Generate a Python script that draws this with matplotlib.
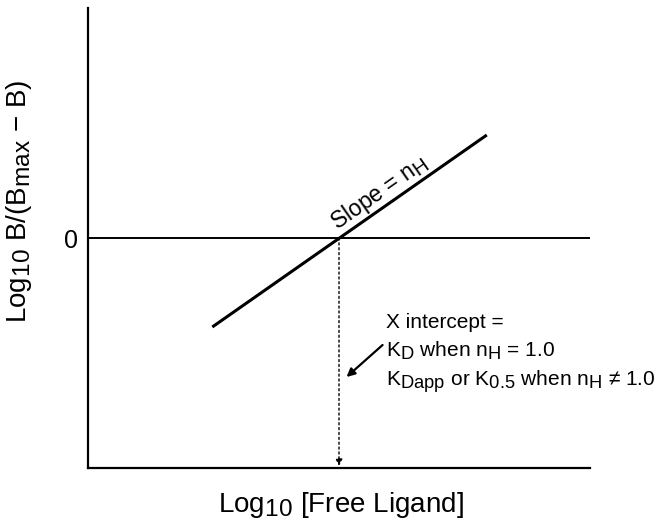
import matplotlib
matplotlib.use("Agg")
import matplotlib.pyplot as plt
import matplotlib._mathtext as mt

# subscripts in the original are nearly full size
mt.SHRINK_FACTOR = 0.88

plt.rcParams['font.family'] = ['Liberation Sans', 'DejaVu Sans']
plt.rcParams['mathtext.fontset'] = 'custom'
plt.rcParams['mathtext.rm'] = 'Liberation Sans'
plt.rcParams['mathtext.it'] = 'Liberation Sans:italic'

# Hill plot schematic
log_free = [-1.262, 1.472]
log_ratio = [-0.89, 1.03]
x_intercept = 0.0
x_range = [-2.5, 2.5]
y_range = [-2.3, 2.3]
y_ticks = [0]

fig = plt.figure(figsize=(6.67, 5.23), dpi=100)
ax = fig.add_axes([88/667, 1-468/523, 502/667, 460/523])
ax.set_xlim(x_range)
ax.set_ylim(y_range)

for s in ['top', 'right']:
    ax.spines[s].set_visible(False)
for s in ['left', 'bottom']:
    ax.spines[s].set_linewidth(1.6)

ax.set_xticks([])
ax.set_yticks(y_ticks)
ax.set_yticklabels([str(t) for t in y_ticks], fontsize=18)
ax.tick_params(axis='y', length=0, pad=7)

ax.axhline(0, color='black', lw=1.4)
ax.plot(log_free, log_ratio, color='black', lw=2.2, solid_capstyle='butt')

# dotted drop line to x axis
ax.annotate('', xy=(x_intercept, y_range[0] + 0.02), xytext=(x_intercept, 0),
            arrowprops=dict(arrowstyle='-|>', linestyle=(0, (1.5, 2)), color='black',
                            lw=1.0, mutation_scale=10, shrinkA=0, shrinkB=0))

ax.text(0.40, 0.45, r'Slope = n$_\mathrm{H}$', rotation=35, fontsize=16.5,
        ha='center', va='center', rotation_mode='anchor')

ax.text(0.47, -0.84, 'X intercept =', fontsize=15, ha='left', va='center')
ax.text(0.47, -1.13, r'K$_\mathrm{D}$ when n$_\mathrm{H}$ = 1.0', fontsize=15,
        ha='left', va='center')
ax.text(0.47, -1.44, r'K$_\mathrm{Dapp}$ or K$_\mathrm{0.5}$ when n$_\mathrm{H}$ ≠ 1.0',
        fontsize=15, ha='left', va='center')

ax.annotate('', xy=(0.075, -1.39), xytext=(0.434, -1.07),
            arrowprops=dict(arrowstyle='-|>', color='black', lw=1.6,
                            mutation_scale=12, shrinkA=0, shrinkB=0))

fig.text(19/667, 1-201/523, r'Log$_\mathrm{10}$ B/(B$_\mathrm{max}$ − B)', rotation=90,
         fontsize=20, ha='center', va='center')
fig.text(341/667, 1-505/523, r'Log$_\mathrm{10}$ [Free Ligand]', fontsize=20,
         ha='center', va='center')

fig.savefig('out.png', dpi=100)
